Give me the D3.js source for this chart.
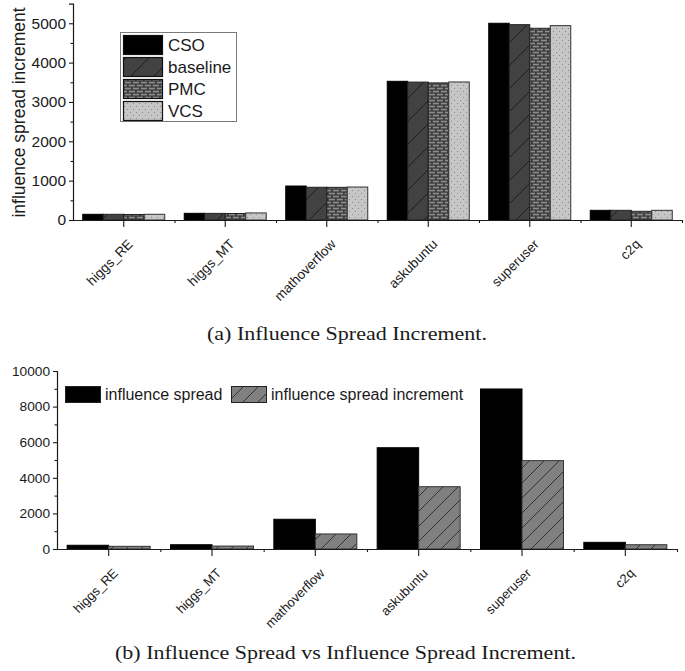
<!DOCTYPE html>
<html>
<head>
<meta charset="utf-8">
<script src="https://cdn.jsdelivr.net/npm/d3@7"></script>
<style>
  html, body { margin: 0; padding: 0; background: #fff; }
  svg { display: block; }
  text { font-family: "Liberation Sans", Arial, sans-serif; fill: #1a1a1a; }
  .cap { font-family: "Liberation Serif", "Times New Roman", serif; }
</style>
</head>
<body>
<svg id="chart" width="685" height="671"></svg>
<script>
// ---------- data ----------
const categories = ["higgs_RE", "higgs_MT", "mathoverflow", "askubuntu", "superuser", "c2q"];
const seriesNames = ["CSO", "baseline", "PMC", "VCS"];
const csoValues = [145, 170, 864, 3525, 5000, 246];
const baselineValues = [145, 168, 832, 3505, 4965, 246];
const pmcValues = [140, 165, 830, 3485, 4873, 221];
const vcsValues = [145, 180, 838, 3508, 4940, 246];
const yTicksA = [0, 1000, 2000, 3000, 4000, 5000];

const seriesNamesB = ["influence spread", "influence spread increment"];
const spreadValues = [210, 240, 1670, 5690, 8990, 375];
const incrementValues = [150, 165, 845, 3500, 4965, 240];
const yTicksB = [0, 2000, 4000, 6000, 8000, 10000];

const captionA = "(a) Influence Spread Increment.";
const captionB = "(b) Influence Spread vs Influence Spread Increment.";

// ---------- setup ----------
const svg = d3.select("#chart");
const defs = svg.append("defs");

function diagPattern(id, size, bg, line, lw) {
  const p = defs.append("pattern").attr("id", id)
    .attr("patternUnits", "userSpaceOnUse").attr("width", size).attr("height", size);
  p.append("rect").attr("width", size).attr("height", size).attr("fill", bg);
  p.append("path")
    .attr("d", `M0,${size} L${size},0 M${-size/2},${size/2} L${size/2},${-size/2} M${size/2},${size*1.5} L${size*1.5},${size/2}`)
    .attr("stroke", line).attr("stroke-width", lw).attr("fill", "none");
}
diagPattern("hatchBase", 23, "#424242", "#1e1e1e", 1);
diagPattern("hatchInc", 15, "#808080", "#2a2a2a", 0.9);

(function () {
  const p = defs.append("pattern").attr("id", "brick")
    .attr("patternUnits", "userSpaceOnUse").attr("width", 8).attr("height", 6);
  p.append("rect").attr("width", 8).attr("height", 6).attr("fill", "#3a3a3a");
  p.append("rect").attr("x", 0.8).attr("y", 0.7).attr("width", 6.2).attr("height", 1.7).attr("fill", "#8c8c8c");
  p.append("rect").attr("x", -3.2).attr("y", 3.7).attr("width", 6.2).attr("height", 1.7).attr("fill", "#8c8c8c");
  p.append("rect").attr("x", 4.8).attr("y", 3.7).attr("width", 6.2).attr("height", 1.7).attr("fill", "#8c8c8c");
})();
(function () {
  const p = defs.append("pattern").attr("id", "dots")
    .attr("patternUnits", "userSpaceOnUse").attr("width", 6).attr("height", 6);
  p.append("rect").attr("width", 6).attr("height", 6).attr("fill", "#c6c6c6");
  p.append("rect").attr("x", 1).attr("y", 1).attr("width", 1).attr("height", 1).attr("fill", "#8a8a8a");
  p.append("rect").attr("x", 4).attr("y", 4).attr("width", 1).attr("height", 1).attr("fill", "#8a8a8a");
})();

const fillsA = ["#000", "url(#hatchBase)", "url(#brick)", "url(#dots)"];
const strokesA = ["#000", "#222", "#222", "#333"];
const fillsB = ["#000", "url(#hatchInc)"];
const strokesB = ["#000", "#333"];

function styleAxis(g) {
  g.selectAll("path.domain").attr("stroke", "#1a1a1a").attr("stroke-width", 1.2);
  g.selectAll(".tick line").attr("stroke", "#1a1a1a").attr("stroke-width", 1.1);
}

function drawXAxis(g, x, left, right, y0, fontSize) {
  const xa = g.append("g").attr("transform", `translate(0,${y0})`)
    .call(d3.axisBottom(x).tickSize(7).tickSizeOuter(0).tickFormat(""));
  styleAxis(xa);
  xa.select("path.domain").attr("d", `M${left - 4},0.5H${right + 1}`);
  const xMinor = g.append("g").attr("transform", `translate(0,${y0})`)
    .call(d3.axisBottom(d3.scaleLinear().domain([0, categories.length]).range([left, right]))
      .tickValues(d3.range(1, categories.length + 1)).tickSize(3).tickFormat(""));
  styleAxis(xMinor);
  xMinor.select("path.domain").remove();
  g.append("g").selectAll("text").data(categories).join("text")
    .attr("text-anchor", "end")
    .attr("transform", c => `translate(${x(c) + x.bandwidth() / 2 + 10},${y0 + 25}) rotate(-45)`)
    .style("font-size", fontSize)
    .text(c => c);
}

// ---------- chart (a) ----------
{
  const left = 73, right = 682, y0 = 220, yTop = 3.6;
  const x = d3.scaleBand().domain(categories).range([left, right]).paddingInner(0).paddingOuter(0);
  const xs = d3.scaleBand().domain(seriesNames).range([0, x.bandwidth()]).paddingInner(0).paddingOuter(0.475);
  const y = d3.scaleLinear().domain([0, 5500]).range([y0, yTop]);
  const seriesValues = [csoValues, baselineValues, pmcValues, vcsValues];
  const g = svg.append("g");

  seriesNames.forEach((s, si) => {
    g.append("g").selectAll("rect").data(categories).join("rect")
      .attr("x", c => x(c) + xs(s))
      .attr("width", xs.bandwidth())
      .attr("y", (c, i) => y(seriesValues[si][i]))
      .attr("height", (c, i) => y0 - y(seriesValues[si][i]))
      .attr("fill", fillsA[si]).attr("stroke", strokesA[si]).attr("stroke-width", 1);
  });

  const ya = g.append("g").attr("transform", `translate(${left},0)`)
    .call(d3.axisLeft(y).tickValues(yTicksA).tickSize(4).tickPadding(3).tickFormat(d3.format("d")));
  ya.selectAll("text").style("font-size", "15.5px");
  styleAxis(ya);
  const yMinor = g.append("g").attr("transform", `translate(${left},0)`)
    .call(d3.axisLeft(y).tickValues(d3.range(500, 5500, 1000)).tickSize(2.5).tickFormat(""));
  styleAxis(yMinor);
  yMinor.select("path.domain").remove();

  drawXAxis(g, x, left, right, y0, "13.5px");

  g.append("text").attr("transform", `translate(25,112.5) rotate(-90)`)
    .attr("text-anchor", "middle").style("font-size", "17.5px")
    .text("influence spread increment");

  const lg = g.append("g");
  lg.append("rect").attr("x", 120.5).attr("y", 32.5).attr("width", 116).attr("height", 89)
    .attr("fill", "#fff").attr("stroke", "#7a7a7a").attr("stroke-width", 1);
  seriesNames.forEach((s, i) => {
    lg.append("rect").attr("x", 123.5).attr("y", 35.5 + i * 22).attr("width", 39).attr("height", 19)
      .attr("fill", fillsA[i]).attr("stroke", "#111").attr("stroke-width", 1.2);
    lg.append("text").attr("x", 168).attr("y", 45 + i * 22).attr("dy", "0.36em")
      .style("font-size", "17px").text(s);
  });

  svg.append("text").attr("class", "cap").attr("x", 207).attr("y", 339.5)
    .attr("textLength", 280).attr("lengthAdjust", "spacingAndGlyphs")
    .style("font-size", "18px").text(captionA);
}

// ---------- chart (b) ----------
{
  const left = 57, right = 677, y0 = 549, yTop = 371;
  const x = d3.scaleBand().domain(categories).range([left, right]).paddingInner(0).paddingOuter(0);
  const xs = d3.scaleBand().domain(seriesNamesB).range([0, x.bandwidth()]).paddingInner(0).paddingOuter(0.245);
  const y = d3.scaleLinear().domain([0, 10000]).range([y0, yTop]);
  const seriesValues = [spreadValues, incrementValues];
  const g = svg.append("g");

  seriesNamesB.forEach((s, si) => {
    g.append("g").selectAll("rect").data(categories).join("rect")
      .attr("x", c => x(c) + xs(s))
      .attr("width", xs.bandwidth())
      .attr("y", (c, i) => y(seriesValues[si][i]))
      .attr("height", (c, i) => y0 - y(seriesValues[si][i]))
      .attr("fill", fillsB[si]).attr("stroke", strokesB[si]).attr("stroke-width", 1);
  });

  const ya = g.append("g").attr("transform", `translate(${left},0)`)
    .call(d3.axisLeft(y).tickValues(yTicksB).tickSize(4).tickPadding(3).tickFormat(d3.format("d")));
  ya.selectAll("text").style("font-size", "13.7px");
  styleAxis(ya);
  const yMinor = g.append("g").attr("transform", `translate(${left},0)`)
    .call(d3.axisLeft(y).tickValues(d3.range(1000, 10000, 2000)).tickSize(2.5).tickFormat(""));
  styleAxis(yMinor);
  yMinor.select("path.domain").remove();

  drawXAxis(g, x, left, right, y0, "13px");

  const lx = [65, 231];
  seriesNamesB.forEach((s, i) => {
    g.append("rect").attr("x", lx[i] + 0.5).attr("y", 386.5).attr("width", 35).attr("height", 16)
      .attr("fill", fillsB[i]).attr("stroke", "#222").attr("stroke-width", 1);
    g.append("text").attr("x", lx[i] + 40).attr("y", 394.5).attr("dy", "0.36em")
      .style("font-size", "16px").text(s);
  });

  svg.append("text").attr("class", "cap").attr("x", 115).attr("y", 659)
    .attr("textLength", 461).attr("lengthAdjust", "spacingAndGlyphs")
    .style("font-size", "18px").text(captionB);
}
</script>
</body>
</html>
